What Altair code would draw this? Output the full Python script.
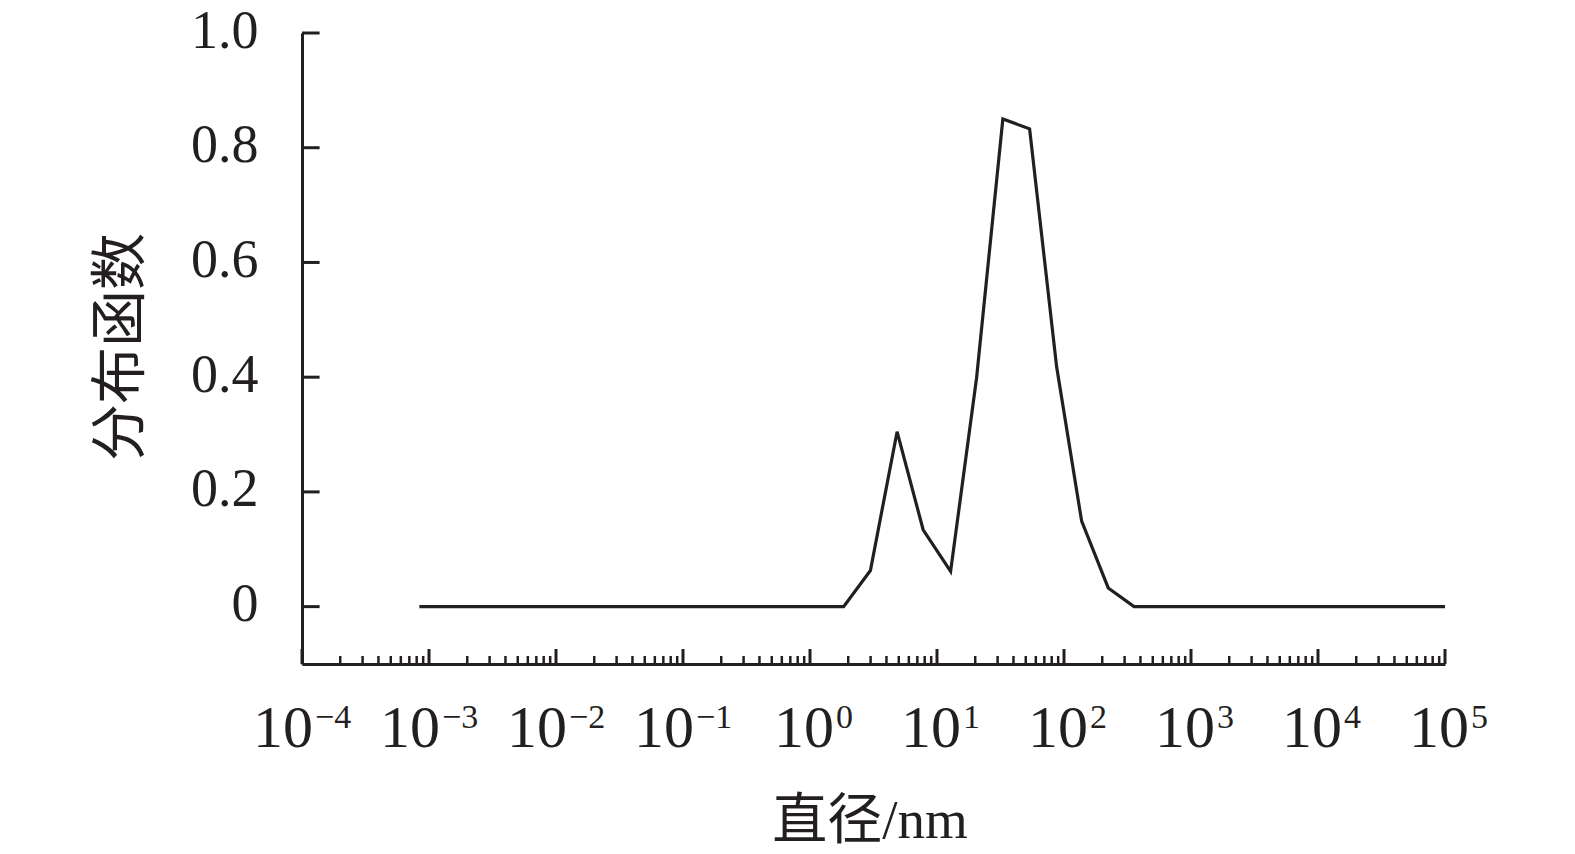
import altair as alt
import pandas as pd

# ---- data ----
diameter_nm = [8.4e-4, 1.84, 2.99, 4.85, 7.78, 12.8, 20.5, 33.0, 53.6, 87.5, 137.7, 223.0, 356.0, 1e5]
distribution = [0.0, 0.0, 0.063, 0.305, 0.134, 0.0615, 0.399, 0.850, 0.833, 0.418, 0.149, 0.0326, 0.0, 0.0]

x_exponents = [-4, -3, -2, -1, 0, 1, 2, 3, 4, 5]
y_tick_values = [0.0, 0.2, 0.4, 0.6, 0.8, 1.0]
minor_multipliers = [2, 3, 4, 5, 6, 7, 8, 9]

x_title = "直径/nm"
y_title = "分布函数"

# ---- layout / style ----
W, H = 1143, 631
INK = "#231f20"
SERIF = "Liberation Serif"
MIX = "Liberation Serif, Noto Sans CJK SC"

line_df = pd.DataFrame({"d": diameter_nm, "f": distribution})
major_df = pd.DataFrame({"v": [10.0 ** e for e in x_exponents],
                         "exp": x_exponents,
                         "base": ["10"] * len(x_exponents),
                         "sup": [str(e).replace("-", "\u2212") for e in x_exponents]})
minor_df = pd.DataFrame({"v": [m * 10.0 ** e for e in x_exponents[:-1] for m in minor_multipliers]})
ytick_df = pd.DataFrame({"y": y_tick_values})

xscale = alt.Scale(type="log", domain=[1e-4, 1e5], nice=False)
yscale = alt.Scale(domain=[-0.1, 1.0], nice=False, zero=False)

x_axis = alt.Axis(labels=False, ticks=False, title=None, grid=False,
                  domainColor=INK, domainWidth=3)
y_axis = alt.Axis(values=y_tick_values, ticks=False, title=None, grid=False,
                  domainColor=INK, domainWidth=3,
                  labelFont=SERIF, labelFontSize=54, labelColor=INK,
                  labelPadding=44, labelOffset=-2,
                  labelExpr="datum.value == 0 ? '0' : format(datum.value, '.1f')")

line = alt.Chart(line_df).mark_line(color=INK, strokeWidth=3.2).encode(
    x=alt.X("d:Q", scale=xscale, axis=x_axis),
    y=alt.Y("f:Q", scale=yscale, axis=y_axis),
)

yticks = alt.Chart(ytick_df).mark_rule(color=INK, strokeWidth=3).encode(
    y=alt.Y("y:Q", scale=yscale),
    x=alt.value(0), x2=alt.value(17.6),
)

xmajor = alt.Chart(major_df).mark_rule(color=INK, strokeWidth=3).encode(
    x=alt.X("v:Q", scale=xscale),
    y=alt.value(H), y2=alt.value(H - 15),
)
xminor = alt.Chart(minor_df).mark_rule(color=INK, strokeWidth=2.5).encode(
    x=alt.X("v:Q", scale=xscale),
    y=alt.value(H), y2=alt.value(H - 8),
)

def label_layers(flt, base_dx, sup_dx):
    base = alt.Chart(major_df).transform_filter(flt).mark_text(
        font=SERIF, fontSize=60, align="right", baseline="alphabetic",
        dx=base_dx, color=INK,
    ).encode(x=alt.X("v:Q", scale=xscale), y=alt.value(714), text="base:N")
    sup = alt.Chart(major_df).transform_filter(flt).mark_text(
        font=SERIF, fontSize=34, align="left", baseline="alphabetic",
        dx=sup_dx, color=INK,
    ).encode(x=alt.X("v:Q", scale=xscale), y=alt.value(695), text="sup:N")
    return [base, sup]

neg_labels = label_layers("datum.exp < 0", 11, 13)
pos_labels = label_layers("datum.exp >= 0", 24, 26)

xtitle = alt.Chart(pd.DataFrame({"t": [x_title]})).mark_text(
    font=MIX, fontSize=55, align="center", baseline="alphabetic", color=INK,
).encode(x=alt.value(568), y=alt.value(805), text="t:N")

ytitle = alt.Chart(pd.DataFrame({"t": [y_title]})).mark_text(
    font=MIX, fontSize=57, align="center", baseline="middle", angle=270, color=INK,
).encode(x=alt.value(-180), y=alt.value(314), text="t:N")

chart = alt.layer(
    line, yticks, xmajor, xminor, *neg_labels, *pos_labels, xtitle, ytitle
).properties(
    width=W, height=H,
    background="white",
    autosize=alt.AutoSizeParams(type="none"),
    padding={"left": 294, "top": 25, "right": 100, "bottom": 190},
).configure_view(stroke=None, strokeWidth=0)

chart.save("out.html", embed_options={"renderer": "svg", "actions": False})
